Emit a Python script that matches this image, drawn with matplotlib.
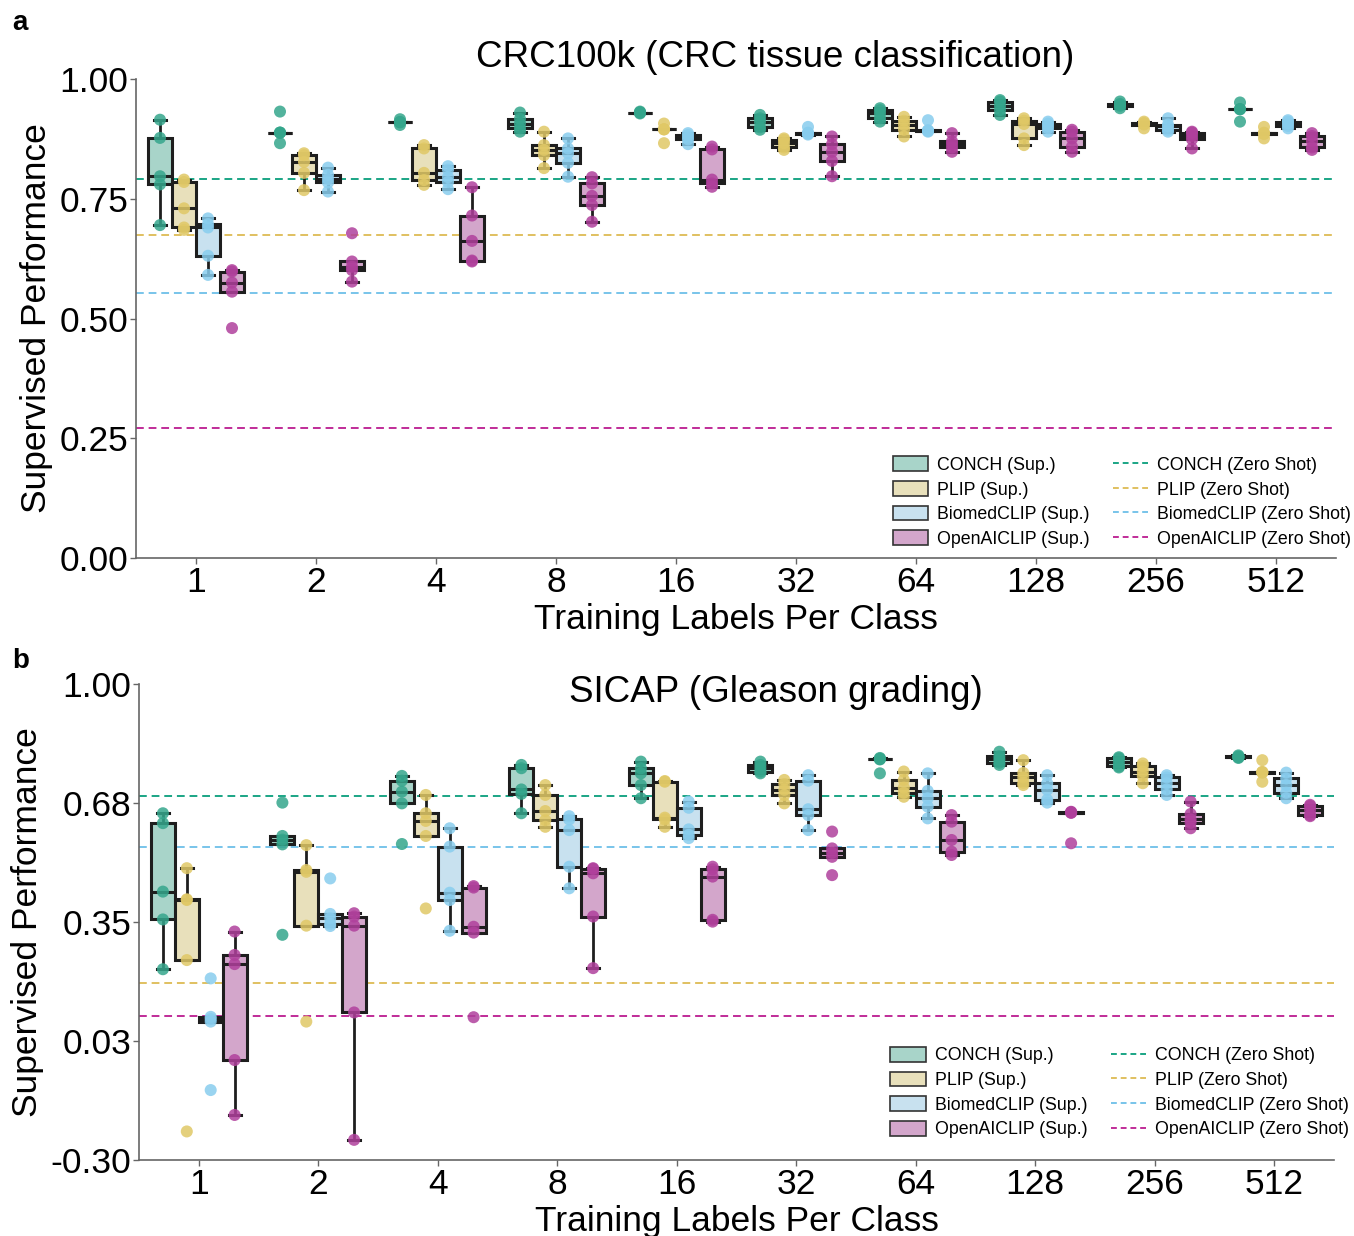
import matplotlib
matplotlib.use("Agg")
import matplotlib.pyplot as plt
import matplotlib.patches as patches
from matplotlib.lines import Line2D
import numpy as np

plt.rcParams['font.family'] = ['Liberation Sans', 'DejaVu Sans']

# ==========================================
# data (5 runs per box)
# ==========================================
labels_per_class = ["1", "2", "4", "8", "16", "32", "64", "128", "256", "512"]
models = ["CONCH", "PLIP", "BiomedCLIP", "OpenAICLIP"]

# panel a: CRC100k
crc_conch = [[0.695, 0.78, 0.797, 0.877, 0.915], [0.866, 0.888, 0.888, 0.888, 0.932],
             [0.904, 0.91, 0.91, 0.91, 0.916], [0.89, 0.897, 0.907, 0.917, 0.93],
             [0.928, 0.93, 0.93, 0.93, 0.932], [0.894, 0.899, 0.91, 0.918, 0.925],
             [0.911, 0.918, 0.928, 0.935, 0.939], [0.925, 0.935, 0.944, 0.953, 0.956],
             [0.939, 0.944, 0.946, 0.948, 0.953], [0.911, 0.937, 0.937, 0.937, 0.951]]
crc_plip = [[0.685, 0.69, 0.73, 0.785, 0.79], [0.768, 0.804, 0.827, 0.841, 0.845],
            [0.779, 0.789, 0.804, 0.855, 0.862], [0.814, 0.841, 0.852, 0.862, 0.89],
            [0.866, 0.895, 0.895, 0.895, 0.907], [0.852, 0.857, 0.866, 0.873, 0.876],
            [0.88, 0.894, 0.904, 0.913, 0.921], [0.862, 0.876, 0.906, 0.913, 0.918],
            [0.897, 0.905, 0.907, 0.908, 0.911], [0.876, 0.885, 0.887, 0.888, 0.9]]
crc_biomed = [[0.591, 0.631, 0.69, 0.697, 0.709], [0.765, 0.784, 0.791, 0.8, 0.815],
              [0.77, 0.785, 0.795, 0.811, 0.818], [0.796, 0.825, 0.845, 0.855, 0.876],
              [0.864, 0.874, 0.878, 0.883, 0.887], [0.884, 0.886, 0.887, 0.888, 0.9],
              [0.89, 0.892, 0.892, 0.893, 0.914], [0.89, 0.897, 0.902, 0.907, 0.911],
              [0.89, 0.894, 0.901, 0.905, 0.918], [0.897, 0.902, 0.907, 0.911, 0.914]]
crc_openai = [[0.48, 0.556, 0.575, 0.598, 0.601], [0.577, 0.601, 0.608, 0.619, 0.678],
              [0.619, 0.621, 0.662, 0.715, 0.774], [0.702, 0.737, 0.756, 0.782, 0.795],
              [0.775, 0.782, 0.79, 0.853, 0.859], [0.797, 0.829, 0.848, 0.864, 0.88],
              [0.848, 0.857, 0.864, 0.87, 0.887], [0.848, 0.859, 0.876, 0.89, 0.894],
              [0.855, 0.874, 0.881, 0.888, 0.89], [0.852, 0.857, 0.87, 0.881, 0.887]]
crc_zero_shot = [0.791, 0.674, 0.554, 0.271]

# panel b: SICAP
sicap_conch = [[0.221, 0.357, 0.433, 0.62, 0.647], [0.315, 0.562, 0.575, 0.585, 0.676],
               [0.563, 0.674, 0.706, 0.736, 0.749], [0.647, 0.70, 0.712, 0.77, 0.779],
               [0.688, 0.724, 0.756, 0.77, 0.788], [0.756, 0.761, 0.77, 0.779, 0.788],
               [0.756, 0.794, 0.795, 0.796, 0.798], [0.779, 0.785, 0.794, 0.803, 0.815],
               [0.772, 0.775, 0.786, 0.797, 0.80], [0.798, 0.80, 0.801, 0.802, 0.805]]
sicap_plip = [[-0.222, 0.246, 0.41, 0.412, 0.497], [0.078, 0.34, 0.487, 0.492, 0.56],
              [0.387, 0.585, 0.626, 0.647, 0.697], [0.61, 0.628, 0.653, 0.697, 0.724],
              [0.61, 0.63, 0.635, 0.733, 0.735], [0.674, 0.697, 0.711, 0.727, 0.738],
              [0.692, 0.703, 0.717, 0.738, 0.761], [0.724, 0.73, 0.745, 0.757, 0.792],
              [0.729, 0.749, 0.761, 0.776, 0.783], [0.733, 0.758, 0.759, 0.76, 0.792]]
sicap_biomed = [[-0.109, 0.078, 0.085, 0.091, 0.196], [0.339, 0.345, 0.36, 0.372, 0.469],
                [0.326, 0.41, 0.43, 0.556, 0.606], [0.442, 0.501, 0.601, 0.63, 0.639],
                [0.579, 0.588, 0.603, 0.662, 0.679], [0.601, 0.642, 0.658, 0.736, 0.751],
                [0.633, 0.665, 0.688, 0.708, 0.756], [0.676, 0.684, 0.711, 0.729, 0.751],
                [0.697, 0.712, 0.729, 0.745, 0.751], [0.688, 0.703, 0.724, 0.742, 0.758]]
sicap_openai = [[-0.177, -0.027, 0.235, 0.26, 0.324], [-0.245, 0.103, 0.34, 0.365, 0.374],
                [0.09, 0.321, 0.337, 0.444, 0.448], [0.224, 0.365, 0.483, 0.495, 0.497],
                [0.351, 0.356, 0.474, 0.494, 0.501], [0.478, 0.528, 0.539, 0.551, 0.597],
                [0.533, 0.542, 0.574, 0.624, 0.642], [0.565, 0.648, 0.649, 0.65, 0.651],
                [0.606, 0.621, 0.63, 0.645, 0.679], [0.639, 0.642, 0.656, 0.667, 0.67]]
sicap_zero_shot = [0.694, 0.183, 0.554, 0.093]

crc_yticks = [0.0, 0.25, 0.5, 0.75, 1.0]
crc_yticklabels = ["0.00", "0.25", "0.50", "0.75", "1.00"]
sicap_yticks = [-0.3, 0.025, 0.35, 0.675, 1.0]
sicap_yticklabels = ["-0.30", "0.03", "0.35", "0.68", "1.00"]

# colours
point_colors = ["#35a68c", "#e0c866", "#88cdee", "#b0409c"]
fill_colors = ["#a8d4c9", "#e8e0bb", "#c8e1ef", "#d3a6cb"]
line_colors = ["#1aa585", "#e0c060", "#78c4ea", "#c02c98"]
edge_col = "#1e1e1e"
FS = 25.5


def draw_panel(ax, sup_data, zero_shot, title, title_y, yticks, yticklabels, ylim, leg_anchor):
    offsets = [-0.3, -0.1, 0.1, 0.3]
    for m, (series, off) in enumerate(zip(sup_data, offsets)):
        pos = np.arange(len(labels_per_class)) + off
        ax.boxplot(series, positions=pos, widths=0.2, patch_artist=True,
                   showfliers=False, whis=1.5, capwidths=0.1,
                   boxprops=dict(facecolor=fill_colors[m], edgecolor=edge_col, lw=2.2),
                   medianprops=dict(color=edge_col, lw=2.2),
                   whiskerprops=dict(color=edge_col, lw=2),
                   capprops=dict(color=edge_col, lw=2.2), zorder=2)
        for p, vals in zip(pos, series):
            ax.scatter(np.full(len(vals), p), vals, s=75, color=point_colors[m],
                       alpha=0.85, edgecolors='none', zorder=3)

    for m, z in enumerate(zero_shot):
        ax.axhline(z, color=line_colors[m], ls=(0, (4, 2.5)), lw=1.4, zorder=1)

    ax.set_xlim(-0.5, len(labels_per_class) - 0.5)
    ax.set_ylim(*ylim)
    ax.set_xticks(np.arange(len(labels_per_class)))
    ax.set_xticklabels(labels_per_class)
    ax.set_yticks(yticks)
    ax.set_yticklabels(yticklabels)
    ax.tick_params(labelsize=FS, color="#666666", length=4, width=1, pad=1.5)
    ax.set_xlabel("Training Labels Per Class", fontsize=FS, labelpad=3)
    ax.set_ylabel("Supervised Performance", fontsize=FS, labelpad=5)
    ax.text(0.533, title_y, title, transform=ax.transAxes, fontsize=26.5,
            ha="center", va="center")
    for side in ["top", "right"]:
        ax.spines[side].set_visible(False)
    for side in ["left", "bottom"]:
        ax.spines[side].set_color("#666666")
        ax.spines[side].set_linewidth(1.2)

    # legend: boxes in first column, dashed lines in second
    handles = [patches.Patch(facecolor=fill_colors[m], edgecolor="#333333", lw=1.2,
                             label=f"{models[m]} (Sup.)") for m in range(4)]
    handles += [Line2D([0], [0], color=line_colors[m], ls=(0, (3, 2)), lw=1.4,
                       label=f"{models[m]} (Zero Shot)") for m in range(4)]
    ax.legend(handles=handles, ncol=2, loc="lower right", bbox_to_anchor=leg_anchor,
              frameon=False, fontsize=12.8, handlelength=2.0, handleheight=0.9,
              columnspacing=1.3, labelspacing=0.4, handletextpad=0.5)


fig = plt.figure(figsize=(13.54, 12.36), dpi=100)
ax_a = fig.add_axes([136 / 1354, 1 - 558 / 1236, 1200 / 1354, 479 / 1236])
ax_b = fig.add_axes([139 / 1354, 1 - 1160 / 1236, 1195 / 1354, 476 / 1236])

draw_panel(ax_a, [crc_conch, crc_plip, crc_biomed, crc_openai], crc_zero_shot,
           "CRC100k (CRC tissue classification)", 1.045, crc_yticks, crc_yticklabels,
           (0, 1.0), (1.026, -0.012))
draw_panel(ax_b, [sicap_conch, sicap_plip, sicap_biomed, sicap_openai], sicap_zero_shot,
           "SICAP (Gleason grading)", 0.983, sicap_yticks, sicap_yticklabels,
           (-0.3, 1.0), (1.026, 0.012))

fig.text(12 / 1354, 1 - 30 / 1236, "a", fontsize=20, fontweight="bold")
fig.text(12 / 1354, 1 - 668 / 1236, "b", fontsize=20, fontweight="bold")

fig.savefig("out.png", dpi=100)
